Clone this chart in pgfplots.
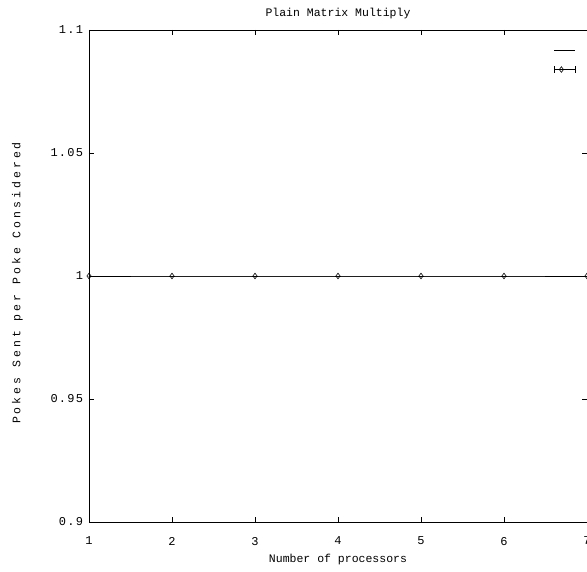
\documentclass[border=0pt]{standalone}
\usepackage{fontspec}
\setmainfont{Liberation Mono}
\usepackage{pgfplots}
\pgfplotsset{compat=1.18}
\begin{document}
\fontsize{11.5pt}{13pt}\selectfont
\begin{tikzpicture}
\begin{axis}[
  name=ax,
  scale only axis,
  width=498pt, height=492pt,
  xmin=1, xmax=7, ymin=0.9, ymax=1.1,
  xtick={1,2,3,4,5,6,7},
  ytick={0.9,0.95,1,1.05,1.1},
  yticklabels={0.9,0.95,1,1.05,1.1},
  tick align=inside,
  major tick length=5pt,
  axis line style={line width=0.9pt},
  tick style={black, line width=0.5pt},
  /pgf/number format/assume math mode=true,
  ticklabel style={font=\fontsize{12pt}{13pt}\selectfont\addfontfeatures{LetterSpace=10}},
  xticklabel style={yshift=-11pt},
  yticklabel style={xshift=-2pt},
  title={Plain Matrix Multiply},
  title style={yshift=1pt},
  xlabel={Number of processors},
  xlabel style={yshift=-1pt},
  ylabel={\addfontfeatures{LetterSpace=26}Pokes Sent per Poke Considered},
  ylabel style={yshift=20pt, xshift=-7pt},
  legend style={draw=none, fill=none, at={(1,1)}, anchor=north east, xshift=-7pt, yshift=-17pt, row sep=13pt, inner sep=0pt},
  legend cell align=left,
]
\addplot[black, line width=0.8pt,
  legend image code/.code={\draw[black, line width=0.8pt] (0pt,0pt) -- (21pt,0pt);}]
  coordinates {(1,1) (2,1) (3,1) (4,1) (5,1) (6,1) (7,1)};
\addlegendentry{}
\addplot[black, line width=0.6pt, mark=diamond, mark size=2.8pt,
  legend image code/.code={
    \draw[black, line width=0.6pt] (0pt,0pt) -- (21pt,0pt);
    \draw[black, line width=0.6pt] (0pt,-3.3pt) -- (0pt,3.3pt);
    \draw[black, line width=0.6pt] (21pt,-3.3pt) -- (21pt,3.3pt);
    \draw[black, line width=0.6pt] plot[mark=diamond, mark size=2.8pt] coordinates {(7pt,0pt)};
  },
  error bars/.cd, y dir=both, y explicit]
  coordinates {(1,1) +- (0,0) (2,1) +- (0,0) (3,1) +- (0,0) (4,1) +- (0,0) (5,1) +- (0,0) (6,1) +- (0,0) (7,1) +- (0,0)};
\addlegendentry{}
\end{axis}
\pgfresetboundingbox
\path[use as bounding box] ([xshift=-89pt, yshift=-49pt]ax.south west) rectangle ([xshift=0pt, yshift=30pt]ax.north east);
\end{tikzpicture}
\end{document}
